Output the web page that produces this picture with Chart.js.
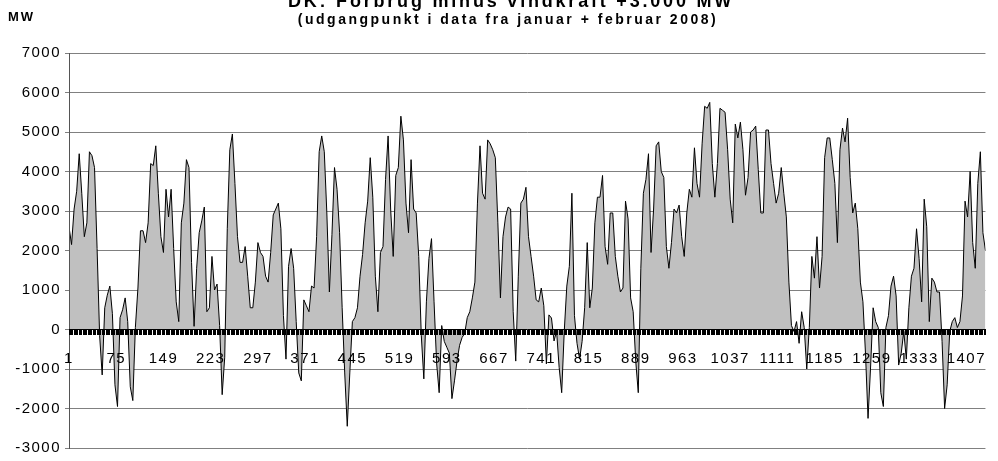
<!DOCTYPE html>
<html>
<head>
<meta charset="utf-8">
<script src="https://cdn.jsdelivr.net/npm/chart.js@4.4.1/dist/chart.umd.min.js"></script>
<style>
  html, body { margin: 0; padding: 0; background: #ffffff; }
  #wrap { width: 998px; height: 461px; position: relative; }
</style>
</head>
<body>
<div id="wrap"><canvas id="c" width="998" height="461"></canvas></div>
<script>
// ---- texts ----
const chartTitle = 'DK: Forbrug minus vindkraft +3.000 MW';
const chartSubtitle = '(udgangpunkt i data fra januar + februar 2008)';
const unitLabel = 'MW';

// ---- axis ticks ----
const xTickLabels = [1, 75, 149, 223, 297, 371, 445, 519, 593, 667, 741, 815, 889, 963, 1037, 1111, 1185, 1259, 1333, 1407];
const yTickValues = [-3000, -2000, -1000, 0, 1000, 2000, 3000, 4000, 5000, 6000, 7000];

// ---- series: MW, read every 4th hour starting at hour 1 ----
const firstHour = 1;
const hourStep = 4;
const netLoadMW = [
  2600, 2150, 3050, 3500, 4450, 3450, 2350, 2700, 4500, 4400,
  4100, 2050, -150, -1150, 550, 870, 1100, 400, -1400, -1950,
  300, 500, 800, 200, -1450, -1800, 50, 1050, 2500, 2500,
  2200, 2700, 4200, 4150, 4650, 3450, 2350, 1950, 3550, 2850,
  3550, 2050, 700, 200, 2700, 3200, 4300,
  4100, 1700, 80, 1550, 2450, 2750, 3100, 450, 550, 1850,
  1000, 1150, 100, -1650, -700, 2550, 4550, 4950, 3700, 2350,
  1700, 1700, 2100, 1350, 550, 550, 1200, 2200, 1950, 1850,
  1350, 1200, 1950, 2900, 3050, 3200, 2550, 350, -750, 1600,
  2050, 1550, 200, -1100, -1300, 750, 600,
  450, 1100, 1050, 2350, 4500, 4900, 4500, 2950, 950, 2400,
  4100, 3550, 2450, 550, -1100, -2450, -1100, 200, 300, 550,
  1350, 1900, 2700, 3250, 4350, 3350, 1350, 450, 1950, 2100,
  3800, 4900, 3050, 1850, 3900, 4100, 5400, 4800, 3200, 2450,
  4300, 3050, 2950, 1850, -150, -1250,
  700, 1800, 2300, 700, -850, -1600, 100, -300, -450, -600,
  -1750, -1300, -800, -400, -200, -100, 300, 450, 800, 1200,
  3200, 4650, 3450, 3300, 4800, 4700, 4550, 4350, 2700, 800,
  2350, 2850, 3100, 3050, 450, -800, 1350, 3200, 3300, 3600,
  2350, 1850, 1350, 750, 700, 1050, 600,
  -870, 370, 290, -290, -40, -960, -1600, -50, 1100, 1600,
  3450, 350, -350, -750, -300, 550, 2200, 550, 1050, 2700,
  3350, 3350, 3900, 2100, 1650, 2950, 2950, 1850, 1350, 950,
  1050, 3250, 2800, 800, 450, -800, -1600, 1550, 3450, 3800,
  4450, 1950, 3050, 4650, 4750, 4000,
  3850, 2100, 1550, 2200, 3050, 2950, 3150, 2350, 1850, 2950,
  3550, 3350, 4600, 3700, 3350, 4700, 5650, 5600, 5750, 4200,
  3350, 4200, 5600, 5550, 5500, 4550, 3300, 2700, 5200, 4850,
  5250, 4550, 3400, 3850, 5000, 5050, 5150, 4050, 2950, 2950,
  5050, 5050, 4200, 3700, 3200, 3450, 4100,
  3450, 2850, 1200, 100, -50, 200, -350, 450, 50, -1000,
  50, 1850, 1300, 2350, 1050, 1850, 4350, 4850, 4850, 4300,
  3700, 2200, 4550, 5100, 4750, 5350, 3850, 2950, 3200, 2550,
  1200, 700, -600, -2250, -950, 550, 200, 50, -1600, -1950,
  50, 350, 1100, 1350, 850, -900,
  -600, -50, -750, 550, 1350, 1550, 2550, 1800, 700, 3300,
  2600, 200, 1300, 1200, 950, 950, -300, -2000, -1400, -50,
  200, 300, 50, 200, 850, 3250, 2850, 4000, 2200, 1550,
  3700, 4500, 2450, 2000
];

const points = netLoadMW.map((v, i) => ({ x: firstHour + i * hourStep, y: v }));
const lastHour = firstHour + (netLoadMW.length - 1) * hourStep;
const hourMarks = [];
for (let h = firstHour; h <= lastHour; h += 2) hourMarks.push(h);

const FONT = '"Liberation Sans", Arial, Helvetica, sans-serif';
Chart.defaults.font.family = FONT;
Chart.defaults.color = '#000';

const spacingPlugin = {
  id: 'spacing',
  beforeLayout(chart) { chart.ctx.letterSpacing = '1.5px'; },
  beforeDraw(chart) { chart.ctx.letterSpacing = '1.5px'; }
};

const textPlugin = {
  id: 'texts',
  afterDraw(chart) {
    const ctx = chart.ctx;
    ctx.save();
    ctx.fillStyle = '#000';
    ctx.textBaseline = 'alphabetic';
    ctx.textAlign = 'center';
    ctx.letterSpacing = '2.8px';
    ctx.font = 'bold 18px ' + FONT;
    ctx.fillText(chartTitle, 511, 7);
    ctx.letterSpacing = '2.5px';
    ctx.font = 'bold 14px ' + FONT;
    ctx.fillText(chartSubtitle, 508, 24);
    ctx.textAlign = 'left';
    ctx.letterSpacing = '2px';
    ctx.font = 'bold 13px ' + FONT;
    ctx.fillText(unitLabel, 8, 21);
    ctx.restore();
  }
};

const plainNumber = v => String(v);

new Chart(document.getElementById('c'), {
  type: 'line',
  data: {
    datasets: [{
      data: points,
      borderColor: '#000000',
      borderWidth: 1,
      backgroundColor: '#c0c0c0',
      fill: 'origin',
      pointRadius: 0,
      tension: 0
    }]
  },
  options: {
    responsive: false,
    animation: false,
    devicePixelRatio: 1,
    layout: { padding: { top: 53, right: 0, bottom: 6, left: 0 } },
    plugins: {
      legend: { display: false },
      tooltip: { enabled: false },
      title: { display: false }
    },
    scales: {
      y: {
        type: 'linear',
        min: -3000,
        max: 7000,
        afterBuildTicks: s => { s.ticks = yTickValues.map(v => ({ value: v })); },
        afterFit: s => { s.width = 69; },
        ticks: { color: '#000', font: { size: 15 }, padding: 4, callback: plainNumber },
        grid: { color: '#808080', lineWidth: 1, tickLength: 4, drawTicks: true },
        border: { color: '#555555', width: 1, z: 1 }
      },
      x: {
        type: 'linear',
        min: firstHour,
        max: lastHour,
        position: { y: 0 },
        afterBuildTicks: s => { s.ticks = xTickLabels.map(v => ({ value: v })); },
        ticks: { autoSkip: false, maxRotation: 0, color: '#000', font: { size: 15 }, padding: 12, z: 2, callback: plainNumber },
        grid: { display: false },
        border: { display: true, color: '#000', width: 1, z: 1 }
      },
      xMarks: {
        type: 'linear',
        axis: 'x',
        min: firstHour,
        max: lastHour,
        position: { y: 0 },
        afterBuildTicks: s => { s.ticks = hourMarks.map(v => ({ value: v })); },
        ticks: { display: false },
        grid: { display: true, drawOnChartArea: false, drawTicks: true, tickLength: 5, color: '#000', lineWidth: 1, z: 1 },
        border: { display: false }
      }
    }
  },
  plugins: [spacingPlugin, textPlugin]
});
</script>
</body>
</html>
